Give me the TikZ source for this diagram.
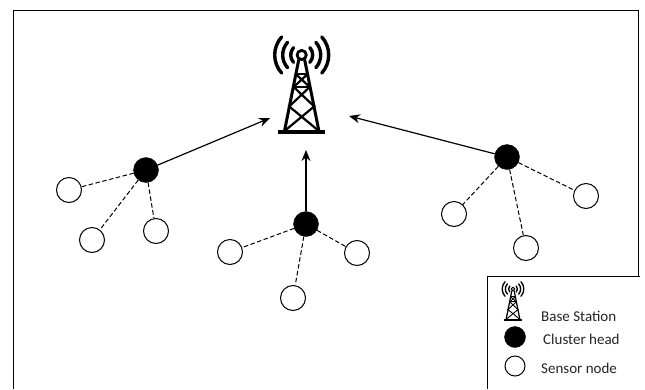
\documentclass[tikz,border=0pt]{standalone}
\usepackage{fontspec}
\setmainfont{Carlito}
\usetikzlibrary{arrows.meta}
\tikzset{
  x=1pt,y=-1pt,
  head/.style={circle,fill=black,draw=black,minimum size=25pt,inner sep=0pt},
  sensor/.style={circle,fill=white,draw=black,line width=1pt,minimum size=25pt,inner sep=0pt},
  link/.style={dash pattern=on 4.5pt off 2.5pt,line width=1pt},
  uplink/.style={line width=1.2pt,-{Stealth[length=11pt,width=9pt]}},
  legendtext/.style={font=\fontsize{15}{17}\selectfont,anchor=west,inner sep=0pt,text=black!85},
  frame/.style={draw=black,line width=1pt},
  tower/.pic={
    \begin{scope}[line cap=round,line join=round]
      \draw[line width=#1*2.8pt] (0,0) circle (4.6*#1);
      \draw[line width=#1*4.5pt,line cap=butt] (-23.5*#1,77*#1) -- (23.5*#1,77*#1);
      \draw[line width=#1*3pt] (-3*#1,5*#1) -- (-17*#1,75*#1) (3*#1,5*#1) -- (17*#1,75*#1);
      \draw[line width=#1*2.2pt] (-6*#1,19*#1) -- (6*#1,19*#1);
      \draw[line width=#1*2.2pt] (-6*#1,19*#1) -- (8*#1,32*#1) (6*#1,19*#1) -- (-8*#1,32*#1);
      \draw[line width=#1*2.2pt] (-8*#1,32*#1) -- (8*#1,32*#1);
      \draw[line width=#1*2.2pt] (-8*#1,32*#1) -- (12*#1,51*#1) (8*#1,32*#1) -- (-12*#1,51*#1);
      \draw[line width=#1*2.2pt] (-13*#1,51*#1) -- (16*#1,75*#1) (13*#1,51*#1) -- (-16*#1,75*#1);
      \foreach \r/\a in {11/42,19/42,27/42}{
        \draw[line width=#1*3.4pt] (\a:\r*#1) arc (\a:-\a:\r*#1);
        \draw[line width=#1*3.4pt] (180-\a:\r*#1) arc (180-\a:180+\a:\r*#1);
      }
    \end{scope}
  }
}
\begin{document}
\begin{tikzpicture}
\useasboundingbox (0,0) rectangle (645,389);
\draw[frame] (13,389) -- (13,10) -- (638,10) -- (638,276);
\fill[white] (487,276) rectangle (640,389);
\draw[frame] (487,389) -- (487,276) -- (640,276);
\pic at (301.7,55) {tower=1};
\coordinate (t1) at (270,118);
\coordinate (t2) at (306,150);
\coordinate (t3) at (349,116);
\node[head] (c1) at (146,170) {};
\node[head] (c2) at (306,224) {};
\node[head] (c3) at (507,157) {};
\foreach \n/\x/\y in {a/69/190,b/92/240,c/156/231,d/230/252,e/357/253,f/293/298,g/454/214,h/526/248,i/586/196}
  \node[sensor] (\n) at (\x,\y) {};
\foreach \n in {a,b,c} \draw[link] (c1) -- (\n);
\foreach \n in {d,e,f} \draw[link] (c2) -- (\n);
\foreach \n in {g,h,i} \draw[link] (c3) -- (\n);
\draw[uplink] (c1) -- (t1);
\draw[uplink] (c2) -- (t2);
\draw[uplink] (c3) -- (t3);
\pic at (513,289) {tower=0.4};
\node[head,minimum size=21pt] (lh) at (515,337) {};
\node[sensor,minimum size=20pt] (ls) at (515,366) {};
\node[legendtext] (l1) at (541,316) {Base Station};
\node[legendtext] (l2) at (543,339) {Cluster head};
\node[legendtext] (l3) at (541,368) {Sensor node};
\end{tikzpicture}
\end{document}
